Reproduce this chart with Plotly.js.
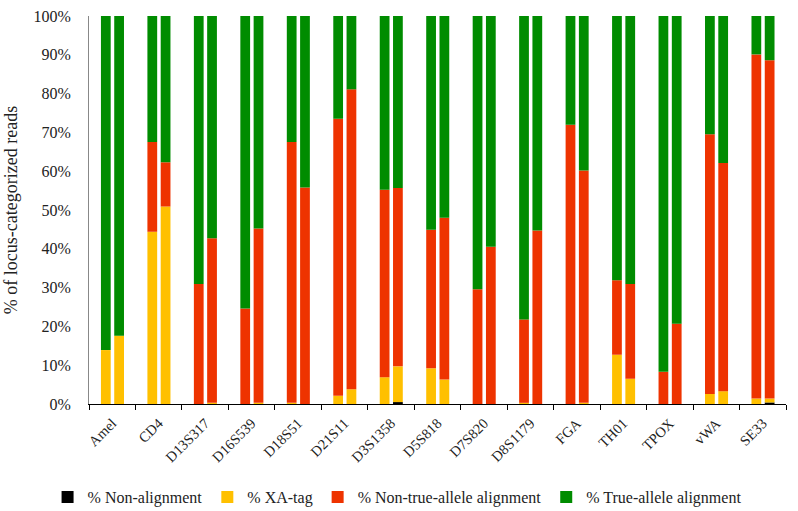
<!DOCTYPE html>
<html>
<head>
<meta charset="utf-8">
<script src="https://cdn.plot.ly/plotly-3.0.1.min.js"></script>
<style>html,body{margin:0;padding:0;background:#fff;}#chart{width:798px;height:511px;}</style>
</head>
<body>
<div id="chart"></div>
<script>
const loci = ["Amel","CD4","D13S317","D16S539","D18S51","D21S11","D3S1358","D5S818","D7S820","D8S1179","FGA","TH01","TPOX","vWA","SE33"];

// first bar of each locus
const nonAlign1 = [0,0,0,0,0,0,0,0,0,0,0,0,0,0,0];
const xaTag1    = [13.9,44.4,0,0,0.3,2.1,6.9,9.2,0,0.3,0,12.7,0,2.6,1.4];
const nonTrue1  = [0,23.1,30.9,24.6,67.2,71.4,48.3,35.7,29.6,21.5,72.0,19.2,8.3,66.9,88.7];

// second bar of each locus
const nonAlign2 = [0,0,0,0,0,0,0.5,0,0,0,0,0,0,0,0.4];
const xaTag2    = [17.6,50.9,0.3,0.3,0,3.8,9.2,6.3,0,0,0.3,6.5,0,3.3,1.0];
const nonTrue2  = [0,11.4,42.4,44.9,55.8,77.3,46.0,41.7,40.5,44.7,59.9,24.4,20.7,58.8,87.2];

const seriesNames = ["% Non-alignment","% XA-tag","% Non-true-allele alignment","% True-allele alignment"];
const seriesColors = ["#000000","#FFC000","#EE3300","#008C00"];

function trueAllele(a,b,c){ return a.map((v,i)=>+(100 - v - b[i] - c[i]).toFixed(2)); }
const true1 = trueAllele(nonAlign1,xaTag1,nonTrue1);
const true2 = trueAllele(nonAlign2,xaTag2,nonTrue2);

const traces = [];
function addBar(seriesList, offset, showLegend){
  let base = loci.map(()=>0);
  seriesList.forEach((vals, k)=>{
    traces.push({
      type:'bar', x:loci, y:vals, base:base.slice(),
      name:seriesNames[k], marker:{color:seriesColors[k], line:{width:0}},
      offset:offset, width:0.21, showlegend:showLegend, legendgroup:seriesNames[k],
      hoverinfo:'skip'
    });
    base = base.map((b,i)=>b+vals[i]);
  });
}
addBar([nonAlign1,xaTag1,nonTrue1,true1], -0.243, true);
addBar([nonAlign2,xaTag2,nonTrue2,true2], 0.043, false);

const fam = 'Liberation Serif, Times New Roman, serif';
const txt = '#222';

const layout = {
  width:798, height:511,
  margin:{l:89, r:12, t:16, b:107, autoexpand:false},
  barmode:'overlay',
  paper_bgcolor:'#fff', plot_bgcolor:'#fff',
  font:{family:fam, size:16, color:txt},
  showlegend:true,
  legend:{orientation:'h', x:0.442, xanchor:'center', y:-0.24, yanchor:'middle',
          bgcolor:'rgba(0,0,0,0)',
          font:{family:fam, size:16, color:txt}, itemwidth:30, traceorder:'normal'},
  xaxis:{type:'category', tickson:'boundaries', ticks:'outside', ticklen:5, tickcolor:'#000',
         showline:true, linecolor:'#000', linewidth:1.2, showgrid:false, tickangle:-45,
         ticklabelstandoff:4, automargin:false,
         tickfont:{family:fam, size:14.5, color:txt}, range:[-0.5,14.5], fixedrange:true},
  yaxis:{range:[0,100], dtick:10, ticksuffix:'%', showgrid:false, zeroline:false,
         showline:true, linecolor:'#888', linewidth:1, ticks:'', ticklabelstandoff:14,
         automargin:false,
         tickfont:{family:fam, size:16, color:txt},
         title:{text:'% of locus-categorized reads', font:{family:fam, size:18, color:txt}, standoff:11}}
};

Plotly.newPlot('chart', traces, layout, {displayModeBar:false, staticPlot:true});
</script>
</body>
</html>
